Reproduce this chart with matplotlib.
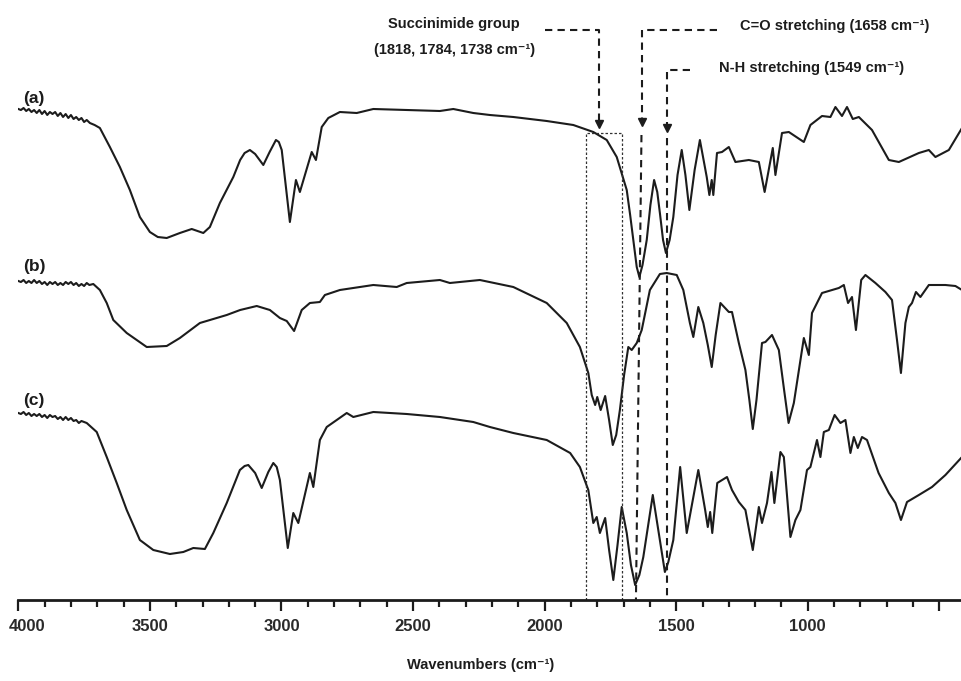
import matplotlib
matplotlib.use("Agg")
import matplotlib.pyplot as plt
import matplotlib.transforms as mtransforms
from matplotlib.ticker import MultipleLocator, FixedLocator

plt.rcParams['font.family'] = ['Liberation Sans', 'DejaVu Sans']
plt.rcParams['font.weight'] = 'bold'

INK = '#1c1c1c'

# spectrum (a): wavenumber (cm-1), transmittance (a.u., offset)
wn_a = [4000, 3990, 3980, 3970, 3960, 3950, 3940, 3930, 3920, 3910, 3900, 3890, 3880, 3870,
        3860, 3850, 3840, 3830, 3820, 3810, 3800, 3790, 3780, 3770, 3760, 3750, 3740, 3728,
        3710, 3690, 3652, 3614, 3576, 3538, 3500, 3470, 3436, 3386, 3341, 3297, 3272, 3234,
        3183, 3157, 3140, 3120, 3100, 3069, 3045, 3021, 3010, 2999, 2968, 2945, 2930, 2885,
        2869, 2847, 2822, 2778, 2714, 2651, 2524, 2398, 2347, 2271, 2208, 2119, 1992, 1891,
        1815, 1764, 1726, 1688, 1675, 1663, 1650, 1640, 1628, 1612, 1598, 1584, 1572, 1562,
        1550, 1539, 1525, 1511, 1495, 1479, 1465, 1450, 1430, 1410, 1384, 1374, 1365, 1359,
        1345, 1326, 1300, 1275, 1224, 1186, 1164, 1133, 1123, 1098, 1072, 1015, 990, 946,
        914, 895, 870, 851, 829, 806, 756, 692, 654, 578, 540, 515, 464, 414]
t_a = [491, 490, 492, 489, 491, 488, 490, 487, 490, 486, 489, 485, 488, 486,
       488, 484, 487, 483, 486, 482, 485, 481, 483, 480, 482, 478, 480, 477,
       475, 472, 453, 433, 410, 383, 368, 363, 362, 367, 371, 367, 373, 397,
       423, 440, 447, 450, 446, 435, 448, 460, 458, 450, 378, 420, 408, 448,
       440, 473, 482, 488, 487, 491, 490, 489, 491, 487, 485, 483, 479, 475,
       468, 460, 443, 410, 385, 360, 333, 323, 335, 360, 395, 420, 408, 387,
       360, 347, 360, 383, 425, 450, 425, 390, 430, 460, 423, 405, 420, 405,
       447, 448, 453, 438, 440, 438, 408, 452, 425, 467, 468, 458, 475, 484,
       483, 493, 484, 493, 481, 483, 470, 440, 438, 447, 450, 443, 450, 472]

# spectrum (b)
wn_b = [4000, 3990, 3980, 3970, 3960, 3950, 3940, 3930, 3920, 3910, 3900, 3890, 3880, 3870,
        3860, 3850, 3840, 3830, 3820, 3810, 3800, 3790, 3780, 3770, 3760, 3750, 3740, 3730,
        3715, 3690, 3664, 3639, 3588, 3512, 3436, 3386, 3310, 3208, 3157, 3094, 3044, 3006,
        2980, 2952, 2923, 2892, 2854, 2835, 2778, 2651, 2562, 2524, 2398, 2360, 2246, 2119,
        1992, 1916, 1866, 1834, 1821, 1808, 1800, 1787, 1770, 1755, 1741, 1728, 1714, 1698,
        1682, 1669, 1650, 1631, 1600, 1562, 1536, 1498, 1473, 1448, 1435, 1416, 1397, 1380,
        1365, 1350, 1332, 1300, 1288, 1262, 1237, 1222, 1209, 1195, 1174, 1161, 1136, 1110,
        1090, 1073, 1053, 1015, 996, 984, 946, 882, 863, 847, 832, 817, 797, 781,
        743, 705, 680, 661, 646, 629, 616, 604, 589, 572, 540, 477, 439, 414]
t_b = [319, 318, 320, 317, 319, 317, 320, 317, 319, 316, 318, 315, 318, 316,
       318, 315, 317, 315, 318, 316, 318, 315, 317, 314, 316, 314, 317, 315,
       316, 310, 297, 280, 267, 253, 254, 262, 277, 285, 290, 294, 290, 282,
       279, 269, 290, 297, 298, 305, 310, 315, 313, 317, 320, 317, 320, 313,
       297, 277, 253, 227, 205, 195, 203, 190, 204, 180, 155, 165, 190, 225,
       253, 250, 257, 270, 310, 326, 327, 325, 310, 277, 263, 293, 277, 255,
       233, 265, 297, 288, 288, 257, 230, 200, 171, 200, 257, 258, 265, 250,
       210, 177, 197, 262, 245, 287, 307, 312, 315, 297, 303, 270, 320, 325,
       317, 308, 300, 260, 227, 277, 293, 297, 308, 303, 315, 315, 314, 310]

# spectrum (c)
wn_c = [4000, 3990, 3980, 3970, 3960, 3950, 3940, 3930, 3920, 3910, 3900, 3890, 3880, 3870,
        3860, 3850, 3840, 3830, 3820, 3810, 3800, 3790, 3780, 3770, 3760, 3740, 3702, 3664,
        3626, 3588, 3538, 3487, 3424, 3373, 3335, 3291, 3259, 3208, 3158, 3140, 3126, 3100,
        3075, 3050, 3031, 3018, 3006, 2976, 2955, 2936, 2892, 2879, 2854, 2828, 2752, 2727,
        2651, 2524, 2398, 2271, 2208, 2119, 1992, 1903, 1866, 1834, 1815, 1802, 1790, 1770,
        1755, 1739, 1723, 1707, 1688, 1672, 1656, 1640, 1625, 1589, 1562, 1543, 1530, 1511,
        1485, 1460, 1416, 1390, 1380, 1371, 1363, 1344, 1307, 1288, 1262, 1237, 1209, 1186,
        1174, 1155, 1138, 1127, 1104, 1091, 1066, 1047, 1028, 1003, 990, 965, 952, 939,
        920, 898, 876, 857, 838, 825, 810, 794, 775, 731, 692, 667, 646, 623,
        578, 528, 477, 414]
t_c = [187, 186, 188, 185, 187, 184, 186, 184, 186, 183, 185, 182, 185, 183,
       184, 181, 183, 180, 183, 180, 182, 179, 180, 177, 179, 177, 168, 143,
       117, 90, 60, 50, 46, 48, 52, 51, 67, 97, 130, 134, 135, 127,
       112, 128, 137, 133, 120, 52, 87, 77, 127, 113, 160, 173, 187, 183,
       188, 186, 183, 178, 173, 167, 160, 147, 133, 110, 77, 83, 67, 82,
       50, 20, 55, 93, 67, 35, 15, 25, 43, 105, 60, 28, 38, 60,
       133, 67, 130, 90, 73, 88, 67, 117, 123, 110, 98, 90, 50, 93,
       77, 97, 128, 97, 148, 143, 63, 80, 90, 130, 133, 160, 143, 168,
       170, 185, 177, 180, 147, 163, 152, 163, 160, 127, 107, 97, 80, 98,
       105, 113, 125, 143]

spectra = [(wn_a, t_a, '(a)', 501), (wn_b, t_b, '(b)', 333), (wn_c, t_c, '(c)', 200)]

fig = plt.figure(figsize=(9.62, 6.81), dpi=100)
fig.patch.set_facecolor('white')
ax = fig.add_axes([18.3 / 962, 81 / 681, (962 - 18.3) / 962, 600 / 681])

for wn, t, name, ylab in spectra:
    ax.plot(wn, t, color=INK, lw=1.5, solid_joinstyle='round')
    ax.text(3982, ylab, name, fontsize=12.5, fontweight='bold', color=INK,
            ha='left', va='center')

# dotted box round the succinimide bands
ax.plot([1844, 1844, 1707, 1707], [0, 467, 467, 0], color='#333333', lw=0.9,
        linestyle=(0, (2, 1.6)))

dash = (0, (3.5, 2.5))
# succinimide leader
ax.plot([2000, 1793, 1793], [570, 570, 478], color=INK, lw=1.5, linestyle=dash)
ax.plot(1793, 476, marker='v', ms=6, color=INK)
# C=O leader
ax.plot([1345, 1630, 1630], [570, 570, 480], color=INK, lw=1.5, linestyle=dash)
ax.plot(1630, 478, marker='v', ms=6, color=INK)
ax.plot([1632, 1653], [465, 0], color=INK, lw=1.5, linestyle=dash)
# N-H leader
ax.plot([1447, 1536, 1536], [530, 530, 474], color=INK, lw=1.5, linestyle=dash)
ax.plot(1536, 472, marker='v', ms=6, color=INK)
ax.plot([1536, 1536], [462, 0], color=INK, lw=1.5, linestyle=dash)

ax.text(2344, 576, 'Succinimide group', fontsize=10.5, fontweight='bold', color=INK,
        ha='center', va='center')
ax.text(2344, 550, '(1818, 1784, 1738 cm⁻¹)', fontsize=10.5, fontweight='bold', color=INK,
        ha='center', va='center')
ax.text(1257, 574, 'C=O stretching (1658 cm⁻¹)', fontsize=10.5, fontweight='bold', color=INK,
        ha='left', va='center')
ax.text(1337, 532, 'N-H stretching (1549 cm⁻¹)', fontsize=10.5, fontweight='bold', color=INK,
        ha='left', va='center')

ax.set_xlim(4000, 414)
ax.set_ylim(0, 600)
for side in ['left', 'top', 'right']:
    ax.spines[side].set_visible(False)
ax.spines['bottom'].set_linewidth(2.0)
ax.spines['bottom'].set_color(INK)
ax.set_yticks([])

ax.xaxis.set_major_locator(FixedLocator([4000, 3500, 3000, 2500, 2000, 1500, 1000, 500]))
ax.set_xticklabels(['4000', '3500', '3000', '2500', '2000', '1500', '1000', ''])
ax.xaxis.set_minor_locator(MultipleLocator(100))
ax.tick_params(axis='x', which='major', length=8, width=1.6, color=INK, pad=6,
               labelsize=12, labelcolor='#2a2a2a')
ax.tick_params(axis='x', which='minor', length=5, width=1.6, color=INK)
for lab in ax.get_xticklabels():
    lab.set_fontweight('bold')
first = ax.get_xticklabels()[0]
first.set_transform(first.get_transform() +
                    mtransforms.ScaledTranslation(9 / 100, 0, fig.dpi_scale_trans))

fig.text(481 / 962, 1 - 665 / 681, 'Wavenumbers (cm⁻¹)', fontsize=10.5, fontweight='bold',
         color=INK, ha='center', va='center')

fig.savefig('out.png', dpi=100, facecolor='white')
